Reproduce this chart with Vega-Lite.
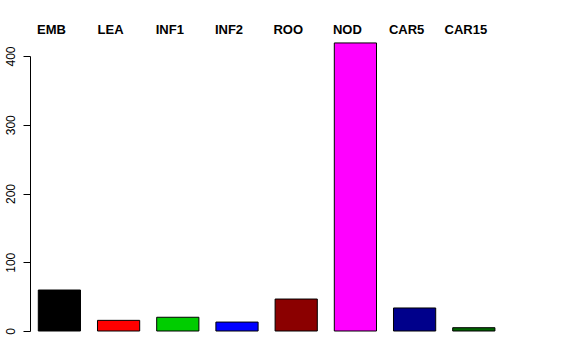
{
  "$schema": "https://vega.github.io/schema/vega-lite/v6.json",
  "width": 473.2,
  "height": 275,
  "autosize": "none",
  "padding": {"left": 30, "top": 56, "right": 72.8, "bottom": 29},
  "background": "white",
  "config": {"view": {"stroke": null}, "font": "Liberation Sans"},
  "data": {
    "values": [
      {"tissue": "EMB", "value": 59.6},
      {"tissue": "LEA", "value": 15.5},
      {"tissue": "INF1", "value": 20},
      {"tissue": "INF2", "value": 13},
      {"tissue": "ROO", "value": 46.5},
      {"tissue": "NOD", "value": 419},
      {"tissue": "CAR5", "value": 33.5},
      {"tissue": "CAR15", "value": 4.8}
    ]
  },
  "mark": {"type": "bar", "stroke": "black", "strokeWidth": 1},
  "encoding": {
    "x": {
      "field": "tissue",
      "type": "nominal",
      "sort": null,
      "scale": {"paddingInner": 0.287, "paddingOuter": 0.14},
      "axis": {
        "orient": "top",
        "title": null,
        "domain": false,
        "ticks": false,
        "tickSize": 0,
        "labelAngle": 0,
        "labelFont": "Liberation Sans",
        "labelFontWeight": "bold",
        "labelFontSize": 13,
        "labelColor": "black",
        "labelBaseline": "alphabetic",
        "labelPadding": 22.5,
        "labelOffset": -8
      }
    },
    "y": {
      "field": "value",
      "type": "quantitative",
      "scale": {"domain": [0, 400], "nice": false},
      "axis": {
        "title": null,
        "values": [0, 100, 200, 300, 400],
        "grid": false,
        "tickSize": 7,
        "tickColor": "black",
        "domainColor": "black",
        "labelAngle": 270,
        "labelAlign": "center",
        "labelBaseline": "alphabetic",
        "labelFontSize": 12,
        "labelColor": "black",
        "labelPadding": 9,
        "labelFlush": false,
        "labelOverlap": false
      }
    },
    "color": {
      "field": "tissue",
      "type": "nominal",
      "scale": {
        "domain": ["EMB", "LEA", "INF1", "INF2", "ROO", "NOD", "CAR5", "CAR15"],
        "range": ["#000000", "#FF0000", "#00CD00", "#0000FF", "#8B0000", "#FF00FF", "#00008B", "#006400"]
      },
      "legend": null
    }
  }
}
